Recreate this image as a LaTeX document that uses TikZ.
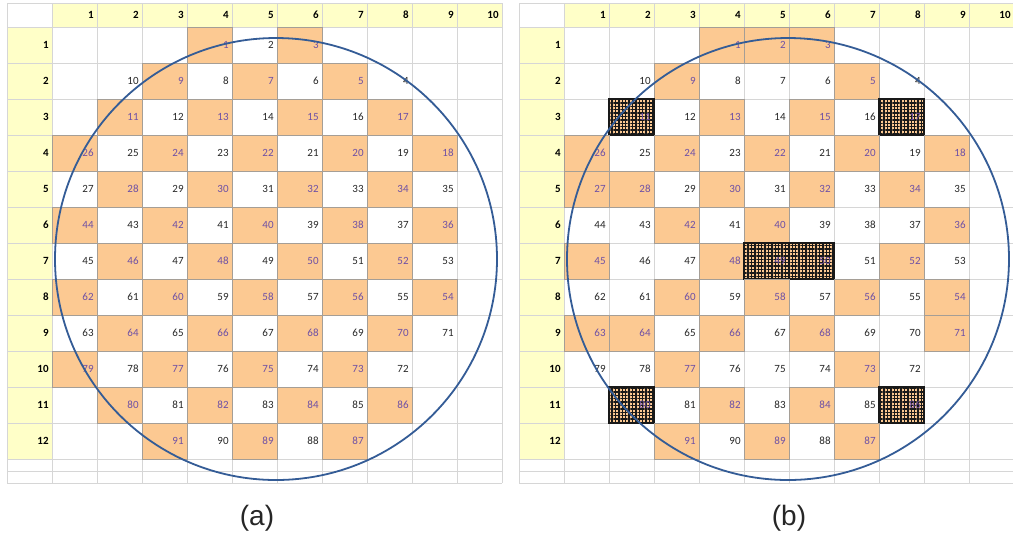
\documentclass[tikz,border=0pt]{standalone}
\usepackage{fontspec}
\setmainfont{Carlito}
\newfontfamily\capfont{Liberation Sans}
\usetikzlibrary{patterns.meta}
\definecolor{hdr}{RGB}{255,255,200}
\definecolor{peach}{RGB}{252,201,146}
\definecolor{gridc}{RGB}{214,214,214}
\definecolor{edgec}{RGB}{165,158,150}
\definecolor{numc}{RGB}{110,80,165}
\definecolor{wafer}{RGB}{52,92,150}
\tikzset{
  gl/.style     = {draw=gridc, line width=0.5pt},
  hd/.style     = {font=\fontsize{5.5}{6}\selectfont\bfseries, anchor=east, inner sep=0pt},
  numW/.style   = {font=\fontsize{5.5}{6}\selectfont, anchor=east, inner sep=0pt, text=black!85},
  numS/.style   = {numW, text=numc},
  numH/.style   = {numW, text=numc},
  cellW/.style  = {},
  cellS/.style  = {fill=peach, draw=edgec, line width=0.5pt},
  cellH/.style  = {preaction={fill=peach}, draw=black!90, line width=0.7pt,
                   pattern={Hatch[distance=1.7pt, line width=0.7pt]},
                   pattern color=black!90},
  rim/.style    = {draw=wafer, line width=0.9pt},
  subcap/.style = {font=\capfont\fontsize{14}{16}\selectfont, text=black!85},
}

\begin{document}
\begin{tikzpicture}[x=0.5pt, y=-0.5pt]
  \useasboundingbox (0,0) rectangle (1013,538);

  % ---- both sheets: header band and grid ----
  \foreach \p/\ox in {a/0, b/512} {
    \fill[hdr] ({\ox+52},3) rectangle ({\ox+502},27);
    \fill[hdr] ({\ox+7},27) rectangle ({\ox+52},459);
    \foreach \c in {0,...,10}
      \draw[gl] ({\ox+52+45*\c},3) -- ({\ox+52+45*\c},483);
    \draw[gl] ({\ox+7},3) -- ({\ox+7},483);
    \foreach \y in {3,27,63,...,459,471,483}
      \draw[gl] ({\ox+7},\y) -- ({\ox+502},\y);
    \foreach \c in {1,...,10}
      \node[hd] (\p-col\c) at ({\ox+49+45*\c},15) {\c};
    \foreach \r in {1,...,12}
      \node[hd] (\p-row\r) at ({\ox+49},{9+36*\r}) {\r};
  }

  % ---- (a): plain checkerboard ----
  \foreach \r/\cz/\cells in {
      1/4/{1/S,2/W,3/S},
      2/2/{10/W,9/S,8/W,7/S,6/W,5/S,4/W},
      3/2/{11/S,12/W,13/S,14/W,15/S,16/W,17/S},
      4/1/{26/S,25/W,24/S,23/W,22/S,21/W,20/S,19/W,18/S},
      5/1/{27/W,28/S,29/W,30/S,31/W,32/S,33/W,34/S,35/W},
      6/1/{44/S,43/W,42/S,41/W,40/S,39/W,38/S,37/W,36/S},
      7/1/{45/W,46/S,47/W,48/S,49/W,50/S,51/W,52/S,53/W},
      8/1/{62/S,61/W,60/S,59/W,58/S,57/W,56/S,55/W,54/S},
      9/1/{63/W,64/S,65/W,66/S,67/W,68/S,69/W,70/S,71/W},
      10/1/{79/S,78/W,77/S,76/W,75/S,74/W,73/S,72/W},
      11/2/{80/S,81/W,82/S,83/W,84/S,85/W,86/S},
      12/3/{91/S,90/W,89/S,88/W,87/S}} {
    \foreach \n/\kind [count=\k from 0] in \cells {
      \pgfmathtruncatemacro\xl{52+45*(\cz+\k-1)}
      \path[cell\kind] (\xl,{27+36*(\r-1)}) rectangle ++(45,36);
      \node[num\kind] (a-\n) at ({\xl+42},{9+36*\r}) {\n};
    }
  }

  % ---- (b): measured dies, hatched = defect ----
  \foreach \r/\cz/\cells in {
      1/4/{1/S,2/S,3/S},
      2/2/{10/W,9/S,8/W,7/W,6/W,5/S,4/W},
      3/2/{11/H,12/W,13/S,14/W,15/S,16/W,17/H},
      4/1/{26/S,25/W,24/S,23/W,22/S,21/W,20/S,19/W,18/S},
      5/1/{27/S,28/S,29/W,30/S,31/W,32/S,33/W,34/S,35/W},
      6/1/{44/W,43/W,42/S,41/W,40/S,39/W,38/W,37/W,36/S},
      7/1/{45/S,46/W,47/W,48/S,49/H,50/H,51/W,52/S,53/W},
      8/1/{62/W,61/W,60/S,59/W,58/S,57/W,56/S,55/W,54/S},
      9/1/{63/S,64/S,65/W,66/S,67/W,68/S,69/W,70/W,71/S},
      10/1/{79/W,78/W,77/S,76/W,75/W,74/W,73/S,72/W},
      11/2/{80/H,81/W,82/S,83/W,84/S,85/W,86/H},
      12/3/{91/S,90/W,89/S,88/W,87/S}} {
    \foreach \n/\kind [count=\k from 0] in \cells {
      \pgfmathtruncatemacro\xl{564+45*(\cz+\k-1)}
      \path[cell\kind] (\xl,{27+36*(\r-1)}) rectangle ++(45,36);
      \node[num\kind] (b-\n) at ({\xl+42},{9+36*\r}) {\n};
    }
  }

  % ---- wafer outline and captions ----
  \foreach \p/\ox/\lx in {a/0/257, b/512/789} {
    \coordinate (\p-ctr) at ({\ox+276},259);
    \draw[rim] (\p-ctr) circle[radius=221];
    \node[subcap] (\p-cap) at (\lx,518) {(\p)};
  }
\end{tikzpicture}
\end{document}
